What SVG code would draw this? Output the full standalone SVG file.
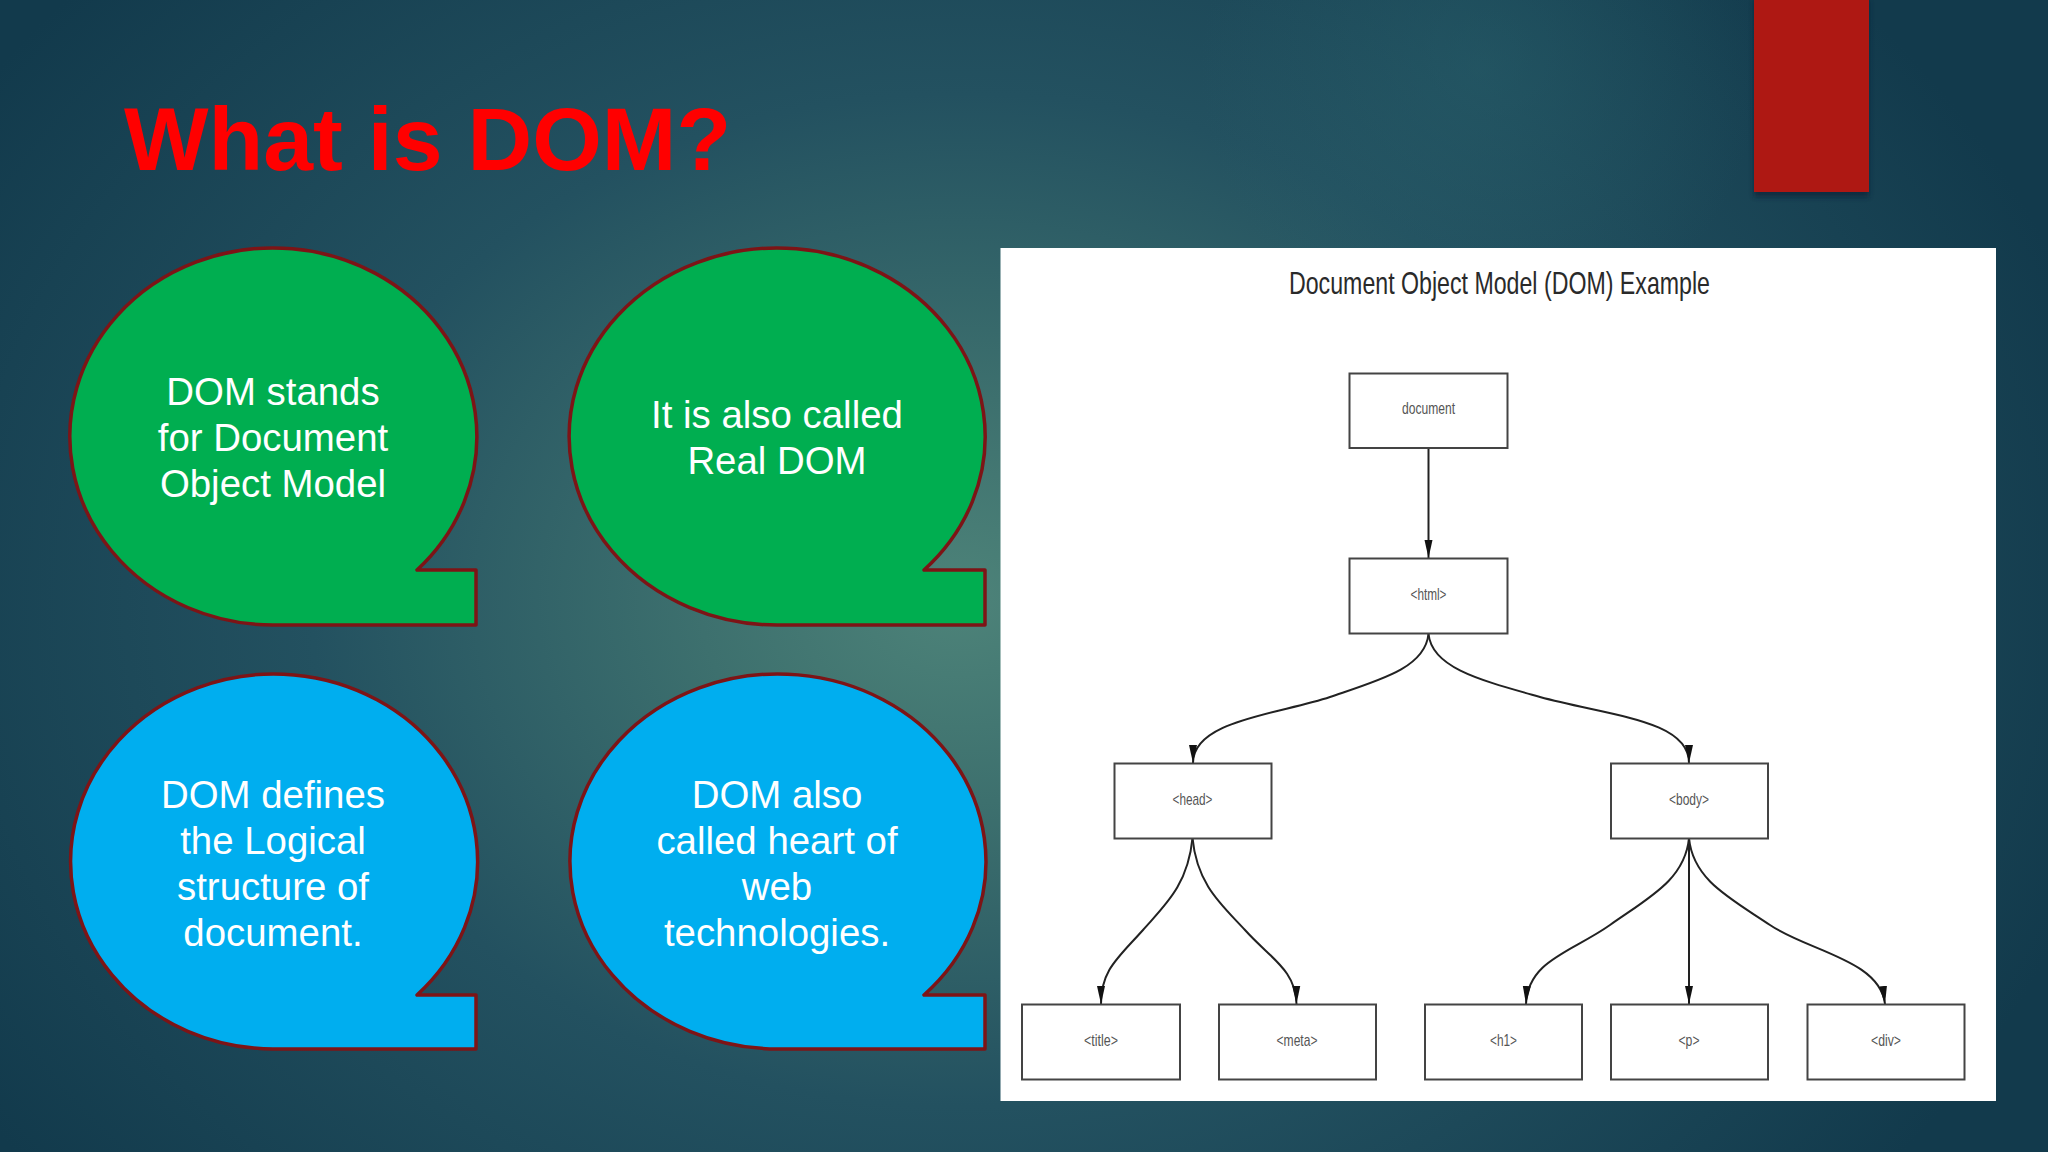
<svg xmlns="http://www.w3.org/2000/svg" width="2048" height="1152" viewBox="0 0 2048 1152">
<style>
.bubble{stroke:#7d1416;stroke-width:3.5;stroke-linejoin:round}
.green{fill:#00ae50}
.blue{fill:#00aeef}
.bt{font-family:"Liberation Sans",Arial,sans-serif;font-size:38.4px;fill:#fff;text-anchor:middle}
.box{fill:#fff;stroke:#444;stroke-width:2}
.nt{font-family:"Liberation Sans",Arial,sans-serif;font-size:17px;fill:#555;text-anchor:middle}
.edge{fill:none;stroke:#222;stroke-width:2;marker-end:url(#arr)}
</style>
<defs>
<radialGradient id="bg" gradientUnits="userSpaceOnUse" cx="960" cy="600" r="1180" gradientTransform="translate(960 600) scale(1 .78) translate(-960 -600)">
<stop offset="0" stop-color="#4d8379"/>
<stop offset=".22" stop-color="#3d706e"/>
<stop offset=".55" stop-color="#235160"/>
<stop offset="1" stop-color="#123a4c"/>
</radialGradient>
<radialGradient id="glow" gradientUnits="userSpaceOnUse" cx="1480" cy="70" r="280">
<stop offset="0" stop-color="#2b6670" stop-opacity=".4"/>
<stop offset="1" stop-color="#2b6670" stop-opacity="0"/>
</radialGradient>
<filter id="sh" x="-20%" y="-20%" width="140%" height="140%"><feGaussianBlur stdDeviation="2.5"/></filter>
<marker id="arr" markerUnits="userSpaceOnUse" markerWidth="19" markerHeight="10" refX="18" refY="5" orient="auto"><path d="M0 1L18 5L0 9Z" fill="#111"/></marker>
</defs>
<rect width="2048" height="1152" fill="url(#bg)"/>
<rect width="2048" height="500" fill="url(#glow)"/>
<g id="ribbon">
<rect x="1754" y="0" width="115" height="197" fill="#10283a" opacity=".8" filter="url(#sh)"/>
<rect x="1754" y="0" width="115" height="192" fill="#ae1813"/>
</g>
<text id="title" x="124" y="170" font-family="'Liberation Sans',Arial,sans-serif" font-size="89.6" font-weight="700" fill="#ff0000">What is DOM?</text>
<g id="bubble1">
<path class="bubble green" d="M273 625A203.500 188.500 0 1 1 417 570L476 570L476 625Z"/>
<text class="bt" x="273" y="405">DOM stands</text><text class="bt" x="273" y="451">for Document</text><text class="bt" x="273" y="497">Object Model</text>
</g>
<g id="bubble2">
<path class="bubble green" d="M777 625A208 188.500 0 1 1 924 570L985 570L985 625Z"/>
<text class="bt" x="777" y="428">It is also called</text><text class="bt" x="777" y="474">Real DOM</text>
</g>
<g id="bubble3">
<path class="bubble blue" d="M273 1049A203.500 187.500 0 1 1 417 995L476 995L476 1049Z"/>
<text class="bt" x="273" y="808">DOM defines</text><text class="bt" x="273" y="854">the Logical</text><text class="bt" x="273" y="900">structure of</text><text class="bt" x="273" y="946">document.</text>
</g>
<g id="bubble4">
<path class="bubble blue" d="M777 1049A208 187.500 0 1 1 924 995L985 995L985 1049Z"/>
<text class="bt" x="777" y="808">DOM also</text><text class="bt" x="777" y="854">called heart of</text><text class="bt" x="777" y="900">web</text><text class="bt" x="777" y="946">technologies.</text>
</g>
<g id="dom-panel">
<rect x="1000.500" y="248" width="995.500" height="853" fill="#fff"/>
<text x="1499.500" y="294" font-family="'Liberation Sans',Arial,sans-serif" font-size="32" fill="#2a2a2a" text-anchor="middle" textLength="421" lengthAdjust="spacingAndGlyphs">Document Object Model (DOM) Example</text>
</g>
<g id="connectors">
<path class="edge" d="M1428.500 448L1428.500 558"/>
<path class="edge" d="M1428.500 634C1425 668 1380 680 1330 697C1280 714 1193 720 1193 763"/>
<path class="edge" d="M1428.500 634C1432 668 1480 680 1540 697C1610 716 1689 720 1689 763"/>
<path class="edge" d="M1192.500 838C1188 885 1165 905 1143 930C1118 958 1101 970 1101 1004"/>
<path class="edge" d="M1192.500 838C1197 885 1222 905 1245 930C1270 958 1296 970 1296.500 1004"/>
<path class="edge" d="M1689 838C1685 880 1648 898 1610 925C1572 952 1528 960 1526 1004"/>
<path class="edge" d="M1689 838L1689 1004"/>
<path class="edge" d="M1689 838C1693 880 1730 898 1770 925C1808 951 1880 960 1885 1004"/>
</g>
<g id="n-document"><rect class="box" x="1349.500" y="373.500" width="158" height="74.500"/><text class="nt" x="1428.500" y="414" textLength="53" lengthAdjust="spacingAndGlyphs">document</text></g>
<g id="n-html"><rect class="box" x="1349.500" y="558.500" width="158" height="75"/><text class="nt" x="1428.500" y="600" textLength="36" lengthAdjust="spacingAndGlyphs">&lt;html&gt;</text></g>
<g id="n-head"><rect class="box" x="1114.500" y="763.500" width="157" height="75"/><text class="nt" x="1192.500" y="805" textLength="40" lengthAdjust="spacingAndGlyphs">&lt;head&gt;</text></g>
<g id="n-body"><rect class="box" x="1611" y="763.500" width="157" height="75"/><text class="nt" x="1689" y="805" textLength="40" lengthAdjust="spacingAndGlyphs">&lt;body&gt;</text></g>
<g id="n-title"><rect class="box" x="1022" y="1004.500" width="158" height="75"/><text class="nt" x="1101" y="1046" textLength="34" lengthAdjust="spacingAndGlyphs">&lt;title&gt;</text></g>
<g id="n-meta"><rect class="box" x="1219" y="1004.500" width="157" height="75"/><text class="nt" x="1297" y="1046" textLength="41" lengthAdjust="spacingAndGlyphs">&lt;meta&gt;</text></g>
<g id="n-h1"><rect class="box" x="1425" y="1004.500" width="157" height="75"/><text class="nt" x="1503.500" y="1046" textLength="27" lengthAdjust="spacingAndGlyphs">&lt;h1&gt;</text></g>
<g id="n-p"><rect class="box" x="1611" y="1004.500" width="157" height="75"/><text class="nt" x="1689" y="1046" textLength="21" lengthAdjust="spacingAndGlyphs">&lt;p&gt;</text></g>
<g id="n-div"><rect class="box" x="1807.500" y="1004.500" width="157" height="75"/><text class="nt" x="1886" y="1046" textLength="30" lengthAdjust="spacingAndGlyphs">&lt;div&gt;</text></g>
</svg>
